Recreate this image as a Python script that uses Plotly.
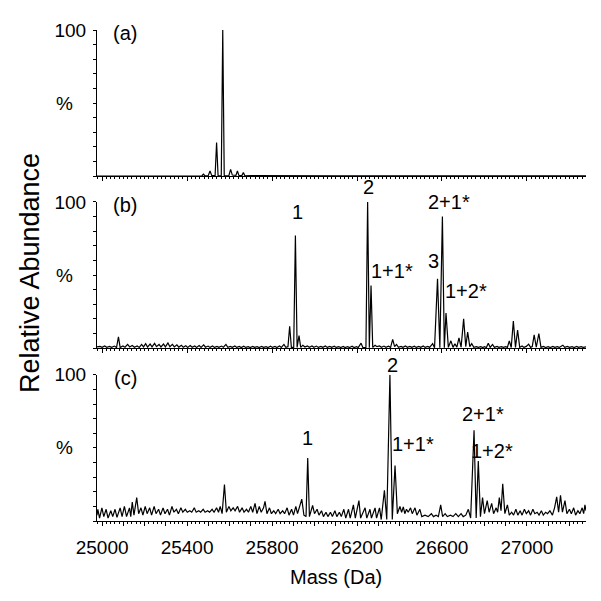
import plotly.graph_objects as go

# ---------------- data ----------------
masses_a = [24976, 25460, 25470, 25477, 25484, 25500, 25508, 25516, 25532, 25539, 25546,
            25561, 25568, 25575, 25597, 25605, 25613, 25630, 25637, 25644, 25658, 25665,
            25672, 25700, 25760, 25900, 26100, 26400, 26700, 27000, 27278]
abund_a = [0, 0, 0.3, 1.4, 0.3, 0.5, 3.6, 0.5, 0.5, 23, 0.3,
           0.3, 100, 0.3, 0.5, 4.7, 0.8, 0.6, 3.6, 0.5, 0.4, 2.5,
           0.3, 0.4, 0.3, 0.3, 0.2, 0.3, 0.2, 0.3, 0.2]

masses_b = [24976, 24990, 25000, 25012, 25022, 25035, 25045, 25058, 25068, 25077, 25085,
            25098, 25108, 25120, 25130, 25142, 25152, 25165, 25175, 25186, 25195, 25205,
            25214, 25226, 25235, 25247, 25256, 25268, 25277, 25289, 25298, 25310, 25319,
            25331, 25340, 25352, 25361, 25373, 25382, 25394, 25403, 25415, 25424, 25436,
            25445, 25457, 25466, 25478, 25487, 25499, 25508, 25520, 25529, 25541, 25550,
            25562, 25571, 25583, 25592, 25604, 25613, 25625, 25634, 25646, 25655, 25667,
            25676, 25688, 25697, 25709, 25718, 25730, 25739, 25751, 25760, 25772, 25781,
            25793, 25802, 25814, 25823, 25835, 25844, 25856, 25865, 25875, 25883, 25891,
            25902, 25910, 25918, 25927, 25935, 25945, 25955, 25966, 25976, 25988, 25997,
            26009, 26018, 26030, 26039, 26051, 26060, 26072, 26081, 26093, 26102, 26114,
            26123, 26135, 26144, 26156, 26165, 26177, 26186, 26198, 26206, 26219, 26228,
            26242, 26250, 26258, 26266, 26274, 26285, 26294, 26306, 26315, 26327, 26336,
            26348, 26358, 26368, 26377, 26386, 26395, 26407, 26416, 26428, 26437, 26449,
            26458, 26470, 26479, 26491, 26500, 26512, 26521, 26533, 26542, 26556, 26565,
            26579, 26590, 26602, 26611, 26619, 26630, 26642, 26652, 26661, 26670, 26680,
            26690, 26702, 26712, 26721, 26731, 26740, 26750, 26762, 26771, 26783, 26792,
            26800, 26809, 26818, 26827, 26838, 26847, 26859, 26868, 26880, 26889, 26900,
            26908, 26917, 26926, 26936, 26946, 26956, 26966, 26977, 26986, 26997, 27008,
            27017, 27025, 27034, 27044, 27056, 27066, 27078, 27088, 27100, 27110, 27122,
            27131, 27143, 27152, 27169, 27178, 27190, 27200, 27212, 27222, 27234, 27243,
            27255, 27265, 27278]
abund_b = [0.8, 1.2, 0.5, 1.5, 0.6, 1.2, 0.5, 1.4, 0.4, 7.7, 0.4,
           1.5, 0.6, 2.5, 0.8, 1.8, 0.6, 1.5, 0.5, 2.5, 0.8, 3.0,
           0.7, 2.8, 0.8, 3.2, 1.0, 2.5, 0.8, 2.8, 0.8, 3.5, 1.0,
           2.6, 0.8, 2.2, 0.6, 2.0, 0.6, 1.6, 0.5, 1.8, 0.6, 1.5,
           0.5, 1.8, 0.5, 2.2, 0.6, 1.4, 0.5, 1.5, 0.5, 1.2, 0.5,
           1.4, 0.6, 2.5, 0.6, 1.2, 0.5, 1.4, 0.5, 1.2, 0.4, 1.3,
           0.5, 1.0, 0.4, 1.2, 0.5, 1.0, 0.4, 1.2, 0.5, 1.0, 0.4,
           1.3, 0.5, 1.1, 0.4, 1.5, 0.5, 2.5, 0.6, 1.0, 15, 0.5,
           0.5, 77, 0.5, 8.5, 0.5, 2.0, 0.8, 1.5, 0.6, 1.5, 0.6,
           1.4, 0.5, 1.2, 0.5, 1.5, 0.5, 1.2, 0.5, 1.3, 0.5, 1.0,
           0.4, 1.2, 0.4, 1.0, 0.4, 1.3, 0.4, 1.0, 0.4, 3.4, 0.3,
           0.3, 100, 0.3, 42.8, 0.5, 2.0, 1.0, 1.5, 0.6, 1.4, 0.6,
           1.3, 0.5, 6.0, 1.0, 2.5, 0.6, 1.2, 0.5, 1.5, 0.6, 1.2,
           0.5, 1.3, 0.5, 1.2, 0.5, 1.4, 0.5, 1.2, 0.5, 3.0, 0.3,
           47.5, 0.3, 90, 0.3, 24, 0.5, 5.0, 0.5, 3.0, 0.6, 7.0,
           0.6, 20, 1.0, 11, 1.0, 3.0, 0.6, 1.0, 0.5, 1.0, 0.4,
           1.0, 0.4, 3.4, 0.5, 2.5, 0.5, 1.2, 0.5, 1.0, 0.5, 1.0,
           0.5, 5.0, 0.4, 18.5, 0.4, 12.4, 0.5, 1.5, 0.5, 1.2, 2.7,
           0.5, 1.0, 9.0, 0.6, 10, 0.5, 1.2, 0.4, 1.0, 0.4, 1.2,
           0.5, 1.0, 0.5, 2.0, 0.5, 1.2, 0.5, 1.0, 0.4, 1.2, 0.5,
           1.0, 0.5, 0.8]

masses_c = [24976, 24980, 24988, 24999, 25008, 25019, 25028, 25041, 25050, 25061, 25070,
            25085, 25094, 25105, 25115, 25129, 25135, 25142, 25150, 25163, 25172, 25183,
            25192, 25203, 25212, 25224, 25233, 25245, 25254, 25266, 25275, 25287, 25296,
            25308, 25317, 25329, 25338, 25350, 25359, 25371, 25380, 25392, 25401, 25413,
            25422, 25434, 25443, 25455, 25464, 25476, 25485, 25497, 25506, 25518, 25527,
            25539, 25548, 25556, 25565, 25576, 25585, 25597, 25606, 25617, 25626, 25638,
            25647, 25659, 25668, 25680, 25689, 25700, 25709, 25720, 25729, 25740, 25749,
            25760, 25767, 25776, 25788, 25797, 25808, 25817, 25829, 25838, 25850, 25859,
            25871, 25880, 25892, 25901, 25912, 25920, 25940, 25950, 25960, 25968, 25976,
            25991, 26000, 26012, 26021, 26033, 26042, 26054, 26063, 26075, 26084, 26096,
            26105, 26117, 26126, 26138, 26147, 26160, 26168, 26183, 26192, 26209, 26217,
            26238, 26246, 26261, 26268, 26285, 26292, 26306, 26314, 26329, 26340, 26355,
            26366, 26379, 26390, 26402, 26410, 26418, 26425, 26433, 26441, 26452, 26460,
            26473, 26482, 26496, 26505, 26520, 26535, 26550, 26560, 26572, 26583, 26594,
            26603, 26615, 26625, 26640, 26652, 26665, 26677, 26690, 26700, 26712, 26724,
            26735, 26751, 26761, 26771, 26781, 26791, 26800, 26813, 26822, 26834, 26843,
            26855, 26862, 26870, 26878, 26886, 26896, 26908, 26917, 26928, 26937, 26948,
            26957, 26968, 26977, 26988, 26997, 27008, 27017, 27028, 27037, 27048, 27057,
            27068, 27077, 27088, 27097, 27108, 27120, 27130, 27140, 27149, 27158, 27167,
            27179, 27188, 27200, 27209, 27220, 27229, 27240, 27249, 27260, 27267, 27273,
            27278]
abund_c = [4, 8, 2, 9, 3, 8, 2, 7, 3, 8, 2.5,
           9, 3, 10, 3, 9, 3, 13, 4, 16, 5, 9,
           4, 10, 5, 9, 4, 10, 5, 8, 4, 9, 5,
           8, 4, 10, 6, 8, 5, 9, 6, 8, 6, 7,
           6, 9, 6, 7, 6, 8, 6, 7, 6, 8, 6,
           9, 6, 10, 5, 25, 6, 10, 7, 9, 7, 10,
           6, 9, 6, 8, 6, 10, 6, 12, 5, 10, 6,
           9, 13.5, 5, 9, 5, 7, 5, 8, 5, 7, 5,
           9, 4, 8, 4, 10, 5, 15, 4, 3, 43, 3,
           10.6, 5, 8, 4, 7, 3, 6, 3, 6, 3, 7,
           3, 6, 3, 8, 2, 8, 2, 11, 2, 14, 2,
           9, 2, 8, 2, 9, 2, 9, 1, 21, 1, 100,
           1, 38, 5, 10, 6, 9.7, 5, 8, 6, 9, 5,
           9, 4, 8, 3, 4, 3, 5, 3, 4, 3, 11,
           3, 5, 3, 4, 3, 5, 3, 5, 3, 4, 8,
           2, 62, 2, 41, 3, 16, 5, 14, 6, 12, 5,
           9, 6, 16, 7, 25.5, 5, 11, 4, 6, 4, 8,
           4, 7, 4, 8, 5, 7, 4, 8, 5, 6, 4,
           7, 4, 6, 5, 7, 4, 9, 16.5, 6, 17.6, 6,
           14, 5, 8, 5, 9, 4, 7, 5, 9, 5, 11,
           7]

panel_names = ["(a)", "(b)", "(c)"]
labels_b = ["1", "2", "1+1*", "3", "2+1*", "1+2*"]
labels_b_pos = [(25918, 93), (26252, 110), (26365, 53), (26562, 59.5), (26633, 100), (26713, 39)]
labels_c = ["1", "2", "1+1*", "2+1*", "1+2*"]
labels_c_pos = [(25969, 57), (26365, 107), (26464, 53), (26793, 73), (26835, 48)]

x_range = [24976, 27278]
y_range = [0, 100]
x_tickvals = list(range(25000, 27300, 100))
x_ticktext = [str(v) if (v - 25000) % 400 == 0 else "" for v in x_tickvals]
y_tickvals = list(range(0, 101, 10))
y_ticktext = ["" if v != 100 else "100" for v in y_tickvals]

# ---------------- figure ----------------
FONT = "Liberation Sans, Arial, sans-serif"
LW = 1.2

fig = go.Figure()
series = [(masses_a, abund_a), (masses_b, abund_b), (masses_c, abund_c)]
for i, (mx, ab) in enumerate(series):
    suf = "" if i == 0 else str(i + 1)
    fig.add_trace(go.Scatter(x=mx, y=ab, mode="lines",
                             line=dict(color="black", width=LW),
                             xaxis="x" + suf, yaxis="y" + suf,
                             showlegend=False, hoverinfo="x+y"))

# page body has an 8px margin, so the figure is 8px smaller and margins shifted
domains = [[0.7022, 1.0], [0.3521, 0.6499], [0.0, 0.2978]]
layout = dict(width=593, height=593, margin=dict(l=89, r=15, t=16, b=80),
              paper_bgcolor="white", plot_bgcolor="white",
              font=dict(family=FONT, size=19, color="black"), showlegend=False)

for i in range(3):
    suf = "" if i == 0 else str(i + 1)
    xa = dict(domain=[0, 1], range=x_range, anchor="y" + suf,
              showline=True, linecolor="black", linewidth=1, mirror=False,
              showgrid=False, zeroline=False,
              tickmode="array", tickvals=x_tickvals, ticktext=x_ticktext,
              ticks="outside", ticklen=4, tickwidth=1, tickcolor="black",
              minor=dict(dtick=20, tick0=25000, ticks="outside", ticklen=2,
                         tickwidth=1, tickcolor="black", showgrid=False),
              showticklabels=(i == 2), ticklabelstandoff=5,
              tickfont=dict(family=FONT, size=19, color="black"))
    if i > 0:
        xa["matches"] = "x"
    ya = dict(domain=domains[i], range=y_range, anchor="x" + suf,
              showline=True, linecolor="black", linewidth=1,
              showgrid=False, zeroline=False,
              tickmode="array", tickvals=y_tickvals, ticktext=y_ticktext,
              ticks="outside", ticklen=3, tickwidth=1, tickcolor="black",
              ticklabelstandoff=3,
              tickfont=dict(family=FONT, size=19, color="black"))
    layout["xaxis" + suf] = xa
    layout["yaxis" + suf] = ya


def ydom(v):
    return (v - y_range[0]) / (y_range[1] - y_range[0])


annotations = []
for i, name in enumerate(panel_names):
    suf = "" if i == 0 else str(i + 1)
    annotations.append(dict(text=name, x=25108, y=ydom(98), xref="x" + suf, yref="y" + suf + " domain",
                            showarrow=False, xanchor="center", yanchor="middle",
                            font=dict(family=FONT, size=20, color="black")))
    annotations.append(dict(text="%", x=-0.045, y=ydom(50), xref="x" + suf + " domain",
                            yref="y" + suf + " domain", showarrow=False, xanchor="right", yanchor="middle",
                            font=dict(family=FONT, size=19, color="black")))
for t, (mx, yy) in zip(labels_b, labels_b_pos):
    annotations.append(dict(text=t, x=mx, y=ydom(yy), xref="x2", yref="y2 domain", showarrow=False,
                            xanchor="center", yanchor="middle",
                            font=dict(family=FONT, size=20, color="black")))
for t, (mx, yy) in zip(labels_c, labels_c_pos):
    annotations.append(dict(text=t, x=mx, y=ydom(yy), xref="x3", yref="y3 domain", showarrow=False,
                            xanchor="center", yanchor="middle",
                            font=dict(family=FONT, size=20, color="black")))
annotations.append(dict(text="Relative Abundance", x=(30 - 97) / 489, y=0.505,
                        xref="paper", yref="paper",
                        showarrow=False, textangle=-90, xanchor="center", yanchor="middle",
                        font=dict(family=FONT, size=27, color="black")))
annotations.append(dict(text="Mass (Da)", x=(336 - 97) / 489, y=-(578 - 521) / 497,
                        xref="paper", yref="paper", showarrow=False,
                        xanchor="center", yanchor="middle",
                        font=dict(family=FONT, size=20, color="black")))
layout["annotations"] = annotations

fig.update_layout(**layout)
fig.write_html("out.html")
